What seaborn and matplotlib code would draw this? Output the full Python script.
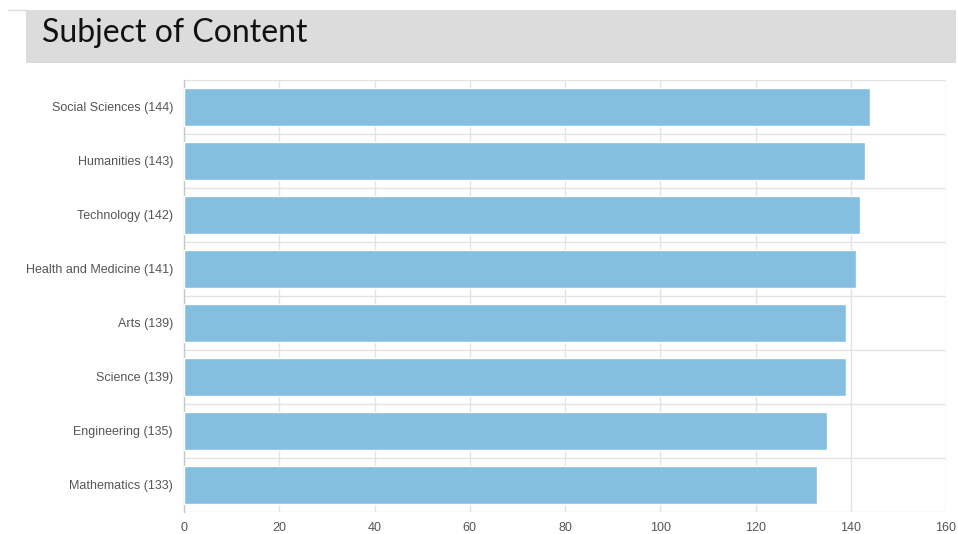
import numpy as np
import pandas as pd
import seaborn as sns
import matplotlib.pyplot as plt
from matplotlib.patches import Rectangle

subjects = ["Social Sciences", "Humanities", "Technology", "Health and Medicine",
            "Arts", "Science", "Engineering", "Mathematics"]
counts = [144, 143, 142, 141, 139, 139, 135, 133]
x_ticks = [0, 20, 40, 60, 80, 100, 120, 140, 160]

df = pd.DataFrame({"subject": subjects, "count": counts})
df["label"] = [f"{s} ({c})" for s, c in zip(subjects, counts)]

sns.set_style("white")
plt.rcParams["font.family"] = ["Liberation Sans", "DejaVu Sans"]

W, H = 958, 534
fig = plt.figure(figsize=(W / 100, H / 100), dpi=100)
ax = fig.add_axes([184 / W, 1 - 512 / H, (946 - 184) / W, (512 - 80) / H])

# title band
fig.patches.append(Rectangle((26 / W, 1 - 63 / H), (956 - 26) / W, 53 / H,
                             transform=fig.transFigure, facecolor="#dcdcdc",
                             edgecolor="none", zorder=0))
fig.add_artist(plt.Line2D([8 / W, 26 / W], [1 - 10 / H, 1 - 10 / H],
                          transform=fig.transFigure, color="#dcdcdc", lw=1))
fig.text(42 / W, 1 - 42 / H, "Subject of Content", fontsize=23,
         family=["Lato", "DejaVu Sans"], color="#111111", va="baseline", ha="left")

sns.barplot(data=df, x="count", y="label", color="#85bfe0", saturation=1,
            width=0.71, ax=ax, zorder=3)

ax.set_xlim(0, 160)
ax.set_ylim(len(subjects) - 0.5, -0.5)
ax.set_xticks(x_ticks)
ax.set_xticklabels([str(t) for t in x_ticks])
ax.set_yticks(np.arange(-0.5, len(subjects), 1), minor=True)
ax.set_xlabel("")
ax.set_ylabel("")

ax.grid(True, axis="x", which="major", color="#e3e3e3", lw=1, zorder=0)
ax.grid(True, axis="y", which="minor", color="#e3e3e3", lw=1, zorder=0)
ax.tick_params(axis="y", which="major", length=0, pad=8, labelsize=9, labelcolor="#555555")
ax.tick_params(axis="y", which="minor", length=8, color="#e3e3e3", width=1)
ax.tick_params(axis="x", which="major", length=4, color="#e3e3e3", pad=3,
               labelsize=9, labelcolor="#555555")

for side in ["top", "right", "bottom"]:
    ax.spines[side].set_visible(False)
ax.spines["left"].set_color("#c8c8c8")
ax.spines["left"].set_linewidth(1)

fig.savefig("out.png", dpi=100)
